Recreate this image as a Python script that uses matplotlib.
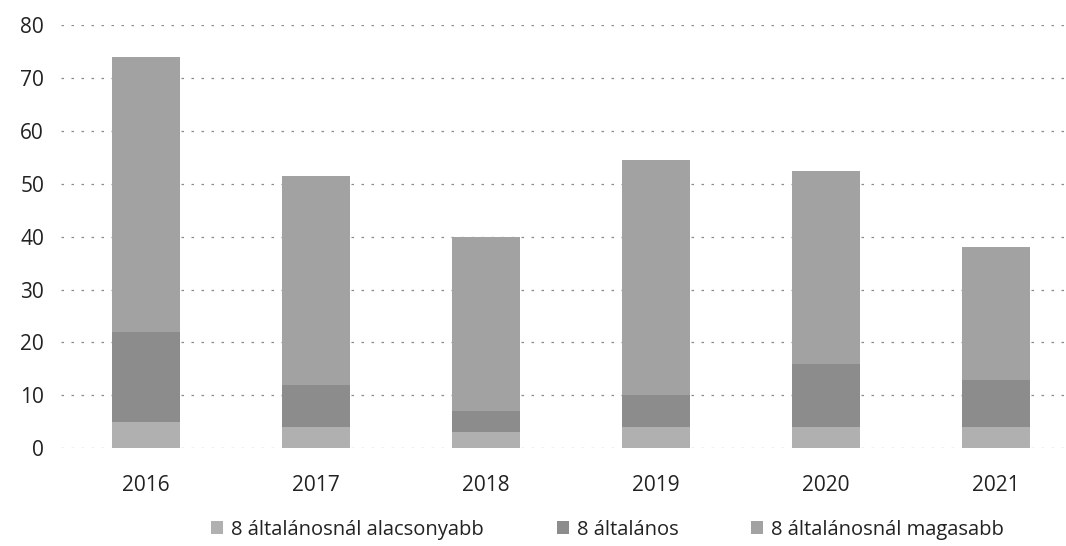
import matplotlib
matplotlib.use("Agg")
import matplotlib.pyplot as plt
import numpy as np

years = ["2016", "2017", "2018", "2019", "2020", "2021"]
alacsonyabb = [5, 4, 3, 4, 4, 4]
altalanos = [17, 8, 4, 6, 12, 9]
magasabb = [52, 39.5, 33, 44.5, 36.5, 25]
series_names = ["8 általánosnál alacsonyabb", "8 általános", "8 általánosnál magasabb"]
colors = ["#b0b0b0", "#8c8c8c", "#a2a2a2"]

plt.rcParams['font.family'] = ['Open Sans', 'DejaVu Sans']

fig = plt.figure(figsize=(10.66, 5.46), dpi=100)
ax = fig.add_axes([0.057, 0.179, 0.943, 0.775])

x = np.arange(len(years))
w = 0.4
bottom = np.zeros(len(years))
for vals, name, c in zip([alacsonyabb, altalanos, magasabb], series_names, colors):
    ax.bar(x, vals, w, bottom=bottom, color=c, label=name, zorder=2)
    bottom += np.array(vals)

ax.set_ylim(0, 80)
ax.set_yticks(range(0, 81, 10))
ax.set_xlim(-0.5, 5.41)
ax.set_xticks(x)
ax.set_xticklabels(years)
ax.grid(axis='y', color='#8a8a8a', linestyle=(0, (2, 6)), linewidth=0.9, zorder=0)
for s in ax.spines.values():
    s.set_visible(False)
ax.tick_params(axis='both', length=0, labelsize=15, colors='#222222')
ax.tick_params(axis='x', pad=19)
ax.tick_params(axis='y', pad=12)

fig.legend(loc='lower center', bbox_to_anchor=(0.57, -0.022), ncol=3, frameon=False,
           fontsize=14.5, handlelength=0.6, handleheight=0.6, handletextpad=0.4,
           columnspacing=3.6, labelcolor='#222222')

fig.savefig("out.png", dpi=100)
